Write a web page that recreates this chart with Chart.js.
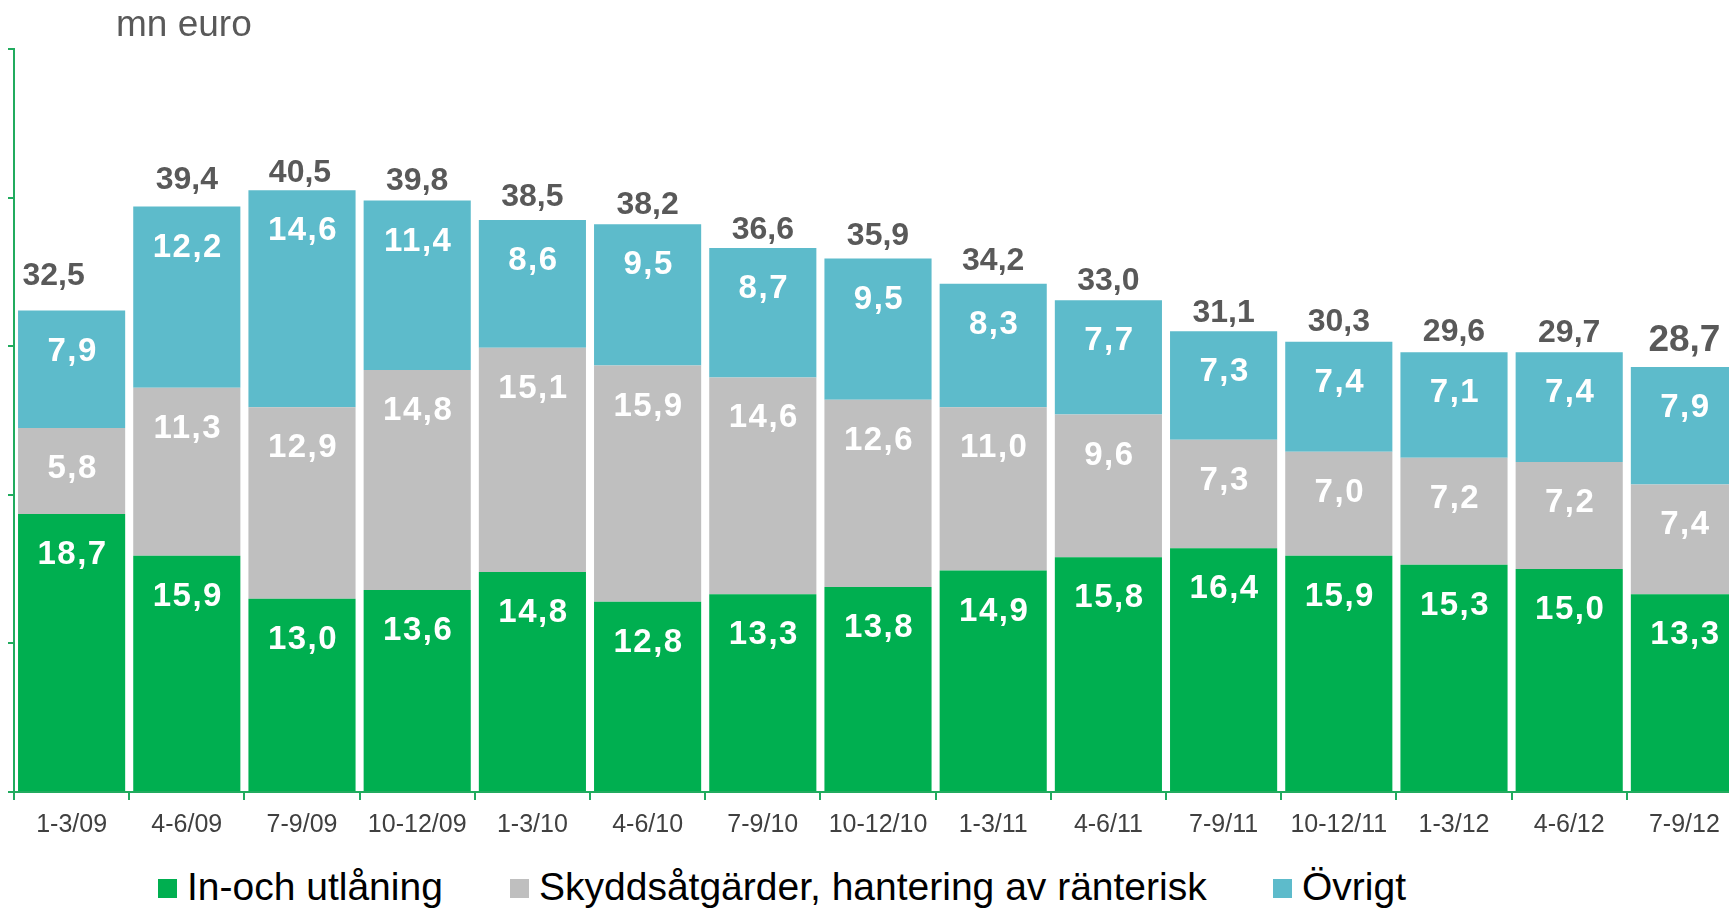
<!DOCTYPE html>
<html>
<head>
<meta charset="utf-8">
<script src="https://cdn.jsdelivr.net/npm/chart.js@4.4.1/dist/chart.umd.min.js"></script>
<style>
  html, body { margin: 0; padding: 0; background: #fff; width: 1729px; height: 909px; overflow: hidden; }
  #wrap { position: absolute; left: 0; top: 0; width: 1745px; height: 854px; }
  #unit { position: absolute; left: 116px; top: 2px; font: 37px 'Liberation Sans', Arial, sans-serif; color: #595959; line-height: 43px; }
  .sw { position: absolute; top: 879px; width: 19px; height: 19px; }
  .lt { position: absolute; top: 864px; font: 39px 'Liberation Sans', Arial, sans-serif; line-height: 45px; color: #000; white-space: nowrap; }
</style>
</head>
<body>
<div id="wrap"><canvas id="chart"></canvas></div>
<div id="unit">mn euro</div>
<div id="legend"></div>
<script>
const categories = ['1-3/09', '4-6/09', '7-9/09', '10-12/09', '1-3/10', '4-6/10', '7-9/10', '10-12/10',
  '1-3/11', '4-6/11', '7-9/11', '10-12/11', '1-3/12', '4-6/12', '7-9/12'];
const seriesNames = ['In-och utlåning', 'Skyddsåtgärder, hantering av ränterisk', 'Övrigt'];
const lending = [18.7, 15.9, 13.0, 13.6, 14.8, 12.8, 13.3, 13.8, 14.9, 15.8, 16.4, 15.9, 15.3, 15.0, 13.3];
const hedging = [5.8, 11.3, 12.9, 14.8, 15.1, 15.9, 14.6, 12.6, 11.0, 9.6, 7.3, 7.0, 7.2, 7.2, 7.4];
const other = [7.9, 12.2, 14.6, 11.4, 8.6, 9.5, 8.7, 9.5, 8.3, 7.7, 7.3, 7.4, 7.1, 7.4, 7.9];
const totals = [32.5, 39.4, 40.5, 39.8, 38.5, 38.2, 36.6, 35.9, 34.2, 33.0, 31.1, 30.3, 29.6, 29.7, 28.7];
const yMin = 0, yMax = 50, yStep = 10;

const colors = ['#00af50', '#bfbfbf', '#5dbbcb'];
const axisColor = '#21ab5e';
const font = "'Liberation Sans', Arial, sans-serif";

// label nudges (px) for the total labels above the bars
const totalLift = [34, 26, 17, 19, 23, 19, 18, 22, 23, 19, 18, 20, 20, 19, 26];
const totalShift = [-18, 0, -2, 0, 0, 0, 0, 0, 0, 0, 0, 0, 0, 0, 0];
const totalSize = [32, 32, 32, 32, 32, 32, 32, 32, 32, 32, 32, 32, 32, 32, 37];
const legendX = [158, 510, 1273];

const fmt = v => v.toFixed(1).replace('.', ',');

const labelPlugin = {
  id: 'barLabels',
  afterDatasetsDraw(chart) {
    const c = chart.ctx;
    c.save();
    c.textAlign = 'center';
    c.textBaseline = 'middle';
    c.fillStyle = '#fff';
    c.font = 'bold 33px ' + font;
    c.letterSpacing = '1.5px';
    chart.data.datasets.forEach((ds, di) => {
      chart.getDatasetMeta(di).data.forEach((bar, i) => {
        const top = Math.min(bar.y, bar.base);
        c.fillText(fmt(ds.data[i]), bar.x + 1, top + 41);
      });
    });
    c.letterSpacing = '0px';
    c.fillStyle = '#595959';
    const last = chart.getDatasetMeta(chart.data.datasets.length - 1);
    last.data.forEach((bar, i) => {
      c.font = 'bold ' + totalSize[i] + 'px ' + font;
      c.fillText(fmt(totals[i]), bar.x + totalShift[i], bar.y - totalLift[i]);
    });
    c.restore();
  }
};

new Chart(document.getElementById('chart'), {
  type: 'bar',
  data: {
    labels: categories,
    datasets: [lending, hedging, other].map((d, i) => ({
      label: seriesNames[i],
      data: d,
      backgroundColor: colors[i],
      borderWidth: 0,
      categoryPercentage: 1,
      barPercentage: 0.93
    }))
  },
  options: {
    responsive: true,
    maintainAspectRatio: false,
    animation: false,
    layout: { padding: { top: 49, left: 8, right: 3, bottom: 4 } },
    plugins: { legend: { display: false }, tooltip: { enabled: false } },
    scales: {
      x: {
        stacked: true,
        border: { color: axisColor, width: 2 },
        grid: { display: true, drawOnChartArea: false, drawTicks: true, tickLength: 8, color: axisColor, lineWidth: 2, offset: true },
        ticks: { color: '#404040', font: { family: font, size: 25 }, padding: 10, maxRotation: 0, autoSkip: false }
      },
      y: {
        stacked: true,
        min: yMin,
        max: yMax,
        border: { color: axisColor, width: 2 },
        grid: { drawOnChartArea: false, drawTicks: true, tickLength: 6, color: axisColor, lineWidth: 2 },
        ticks: { display: false, stepSize: yStep }
      }
    }
  },
  plugins: [labelPlugin]
});

const legend = document.getElementById('legend');
seriesNames.forEach((name, i) => {
  const sw = document.createElement('div');
  sw.className = 'sw';
  sw.style.left = legendX[i] + 'px';
  sw.style.background = colors[i];
  const t = document.createElement('div');
  t.className = 'lt';
  t.style.left = (legendX[i] + 29) + 'px';
  t.textContent = name;
  legend.appendChild(sw);
  legend.appendChild(t);
});
</script>
</body>
</html>
